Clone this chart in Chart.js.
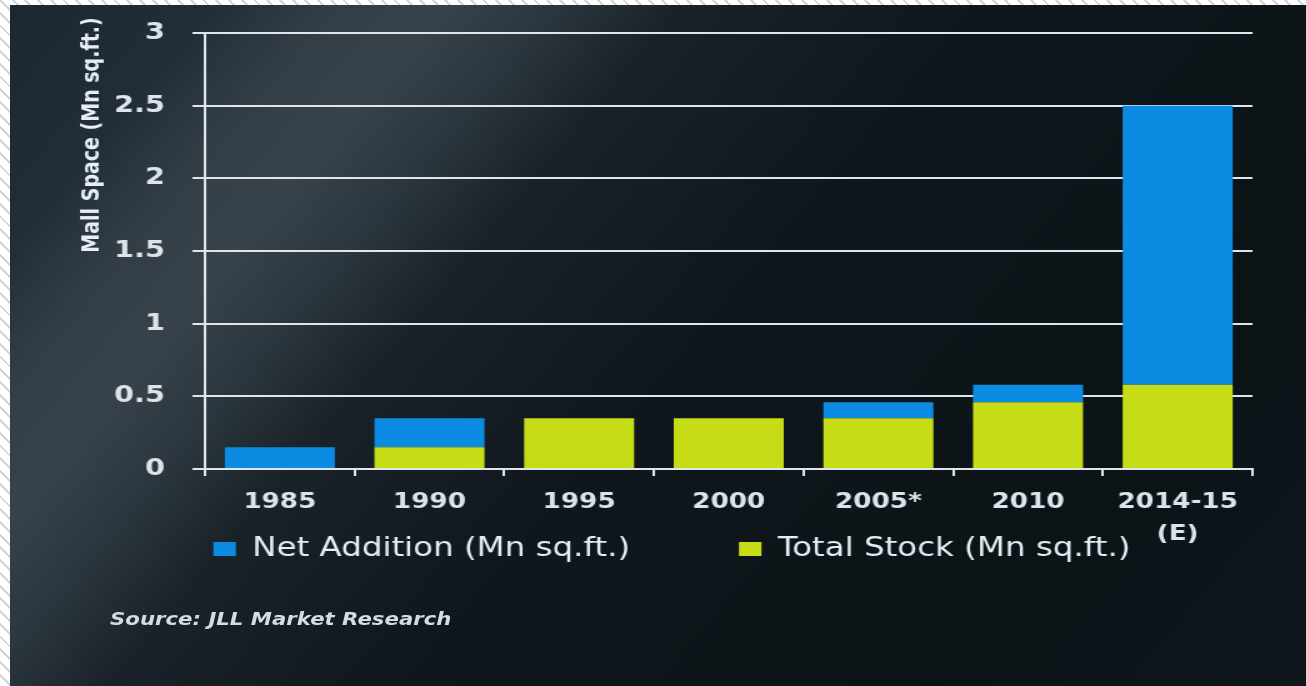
<!DOCTYPE html>
<html>
<head>
<meta charset="utf-8">
<script src="https://cdn.jsdelivr.net/npm/chart.js@4.4.1/dist/chart.umd.min.js"></script>
<style>
    html, body {
        margin: 0;
        width: 1306px;
        height: 686px;
        overflow: hidden;
        background: repeating-linear-gradient(45deg, #ffffff 0 7px, #d4d4d4 7px 9px);
    }
    /* the source picture is stretched sideways, so draw narrow and scale */
    #wrap {
        position: absolute;
        left: 10px;
        top: 5px;
        width: 1037px;
        height: 681px;
        transform: scaleX(1.25);
        transform-origin: 0 0;
        background: linear-gradient(124deg, #1a2834 0%, #212e39 11%, #323d46 17%, #38424a 23%, #2c363e 29%,
            #192228 36%, #0f171c 52%, #0b1317 80%, #0e171c 100%);
    }
    #mallChart {
        position: absolute;
        left: 0;
        top: 0;
    }
    #source {
        position: absolute;
        left: 80px;
        top: 604px;
        font: italic bold 17px 'DejaVu Sans', sans-serif;
        color: #d3dbe3;
    }
</style>
</head>
<body>
<div id="wrap">
    <canvas id="mallChart" width="1037" height="681"></canvas>
    <div id="source">Source: JLL Market Research</div>
</div>
<script>
// chart values
const years = ['1985', '1990', '1995', '2000', '2005*', '2010', ['2014-15', '(E)']];
const totalStock = [0, 0.15, 0.35, 0.35, 0.35, 0.46, 0.58];
const netAddition = [0.15, 0.2, 0, 0, 0.11, 0.12, 1.92];
const yTicks = [0, 0.5, 1, 1.5, 2, 2.5, 3];

const lineColor = '#dfe5ea';
const textColor = '#dce3ea';

// rotated y axis title, sits near the top of the axis
const yTitlePlugin = {
    id: 'yTitlePlugin',
    afterLayout: (chart) => {
        // x axis got zero height for layout, give its labels room to draw
        chart.scales.x.bottom = chart.height;
    },
    afterDraw: (chart) => {
        const ctx = chart.ctx;
        ctx.save();
        ctx.translate(66, 130);
        ctx.rotate(-Math.PI / 2);
        ctx.font = 'bold 19px "DejaVu Sans", sans-serif';
        ctx.fillStyle = '#e6edf4';
        ctx.textAlign = 'center';
        ctx.textBaseline = 'middle';
        ctx.fillText('Mall Space (Mn sq.ft.)', 0, 0);
        ctx.restore();
    }
};

const data = {
    labels: years,
    datasets: [
        {
            label: 'Total Stock (Mn sq.ft.)',
            data: totalStock,
            backgroundColor: '#c6dc17',
            borderWidth: 0
        },
        {
            label: 'Net Addition (Mn sq.ft.)',
            data: netAddition,
            backgroundColor: '#0b8ce2',
            borderWidth: 0
        }
    ]
};

const options = {
    responsive: false,
    devicePixelRatio: 1,
    animation: false,
    layout: {
        padding: { left: 65, right: 43, top: 28, bottom: 114 }
    },
    datasets: {
        bar: { categoryPercentage: 1, barPercentage: 0.735 }
    },
    scales: {
        x: {
            stacked: true,
            grid: {
                drawOnChartArea: false,
                drawTicks: true,
                tickLength: 7,
                color: lineColor,
                lineWidth: 2
            },
            border: { color: lineColor, width: 2 },
            ticks: {
                color: textColor,
                padding: 11,
                autoSkip: false,
                maxRotation: 0,
                minRotation: 0,
                font: { family: 'DejaVu Sans', size: 21, weight: 'bold', lineHeight: 1.5 }
            },
            // labels hang below, the legend overlaps their second line
            afterFit: (scale) => { scale.height = 0; }
        },
        y: {
            stacked: true,
            min: 0,
            max: 3,
            afterBuildTicks: (scale) => {
                scale.ticks = yTicks.map(v => ({ value: v }));
            },
            grid: {
                color: lineColor,
                lineWidth: 2,
                tickLength: 10
            },
            border: { color: lineColor, width: 2 },
            ticks: {
                color: textColor,
                padding: 22,
                callback: (value) => String(value),
                font: { family: 'DejaVu Sans', size: 23, weight: 'bold', lineHeight: 0.5 }
            },
            afterFit: (scale) => { scale.width = 91; }
        }
    },
    plugins: {
        tooltip: { enabled: false },
        legend: {
            position: 'bottom',
            // empty title with negative padding pulls the row up so the
            // wide gap between items does not push it down
            title: {
                display: true,
                text: ' ',
                font: { size: 1, lineHeight: 1 },
                padding: { top: 0, bottom: -21 }
            },
            labels: {
                boxWidth: 18,
                boxHeight: 14,
                padding: 87,
                color: '#e6edf4',
                font: { family: 'DejaVu Sans', size: 26 },
                sort: (a, b) => b.datasetIndex - a.datasetIndex
            }
        }
    }
};

new Chart(document.getElementById('mallChart').getContext('2d'), {
    type: 'bar',
    data: data,
    options: options,
    plugins: [yTitlePlugin]
});
</script>
</body>
</html>
